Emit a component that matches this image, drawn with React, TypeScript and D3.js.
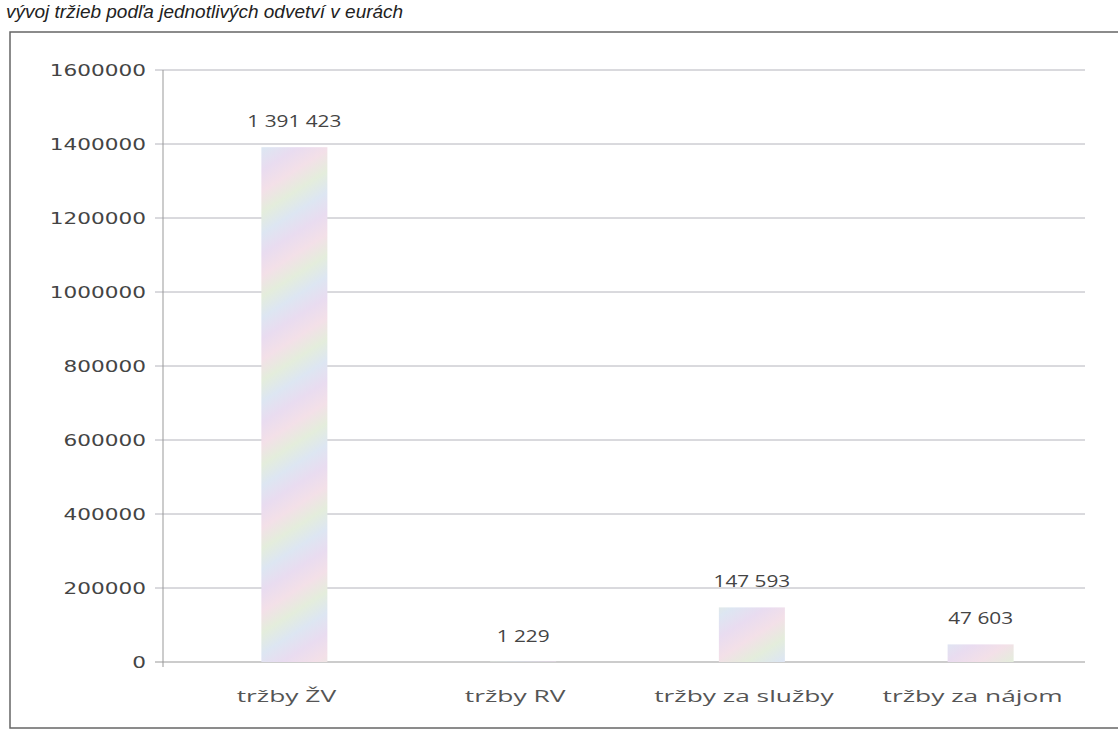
// @ts-nocheck
import * as d3 from 'd3';

const categories = ['tržby ŽV', 'tržby RV', 'tržby za služby', 'tržby za nájom'];
const values = [1391423, 1229, 147593, 47603];
const valueLabels = ['1 391 423', '1 229', '147 593', '47 603'];
const yTicks = [0, 200000, 400000, 600000, 800000, 1000000, 1200000, 1400000, 1600000];
const title = 'vývoj tržieb podľa jednotlivých odvetví v eurách';

const width = 1118;
const height = 739;

function App() {
  const x = d3.scaleBand().domain(categories).range([180, 1095]).paddingInner(0.71).paddingOuter(0.355);
  const y = d3.scaleLinear().domain([0, 1600000]).range([662, 70]);
  const barW = 66;

  return (
    <div style={{ position: 'absolute', left: 0, top: 0 }}>
      <svg width={width} height={height} style={{ display: 'block', background: '#fff' }}>
        <defs>
          <linearGradient id="moire" x1="0" y1="0" x2="38" y2="60" gradientUnits="userSpaceOnUse" spreadMethod="repeat">
            <stop offset="0" stopColor="#e9dcf0" />
            <stop offset="0.25" stopColor="#f3e0e8" />
            <stop offset="0.5" stopColor="#e4eddc" />
            <stop offset="0.75" stopColor="#dde6f2" />
            <stop offset="1" stopColor="#e9dcf0" />
          </linearGradient>
        </defs>

        <text x={6} y={18} fontFamily="Liberation Sans, Arial" fontStyle="italic" fontSize={19} fill="#222">{title}</text>

        {/* frame */}
        <rect x={10} y={32} width={1120} height={696} fill="none" stroke="#666" strokeWidth={1.5} />

        {/* gridlines + y labels */}
        {yTicks.map(t => (
          <g key={t}>
            <line x1={155} x2={1085} y1={y(t)} y2={y(t)} stroke={t === 0 ? '#999' : '#b4b4bc'} strokeWidth={1} />
            <text transform={`translate(146,${y(t)}) scale(1.35,1)`} dy="0.35em" textAnchor="end" fontFamily="DejaVu Sans, Verdana" fontSize={16} fill="#444">{t}</text>
          </g>
        ))}
        <line x1={163} x2={163} y1={y(1600000)} y2={y(0) + 5} stroke="#999" />

        {/* bars */}
        {categories.map((c, i) => {
          const cx = x(c) + x.bandwidth() / 2;
          return (
            <g key={c}>
              <rect x={cx - barW / 2} y={y(values[i])} width={barW} height={y(0) - y(values[i])} fill="url(#moire)" />
              <text transform={`translate(${cx},${y(values[i]) - 20}) scale(1.3,1)`} textAnchor="middle" fontFamily="Open Sans, Liberation Sans" fontSize={16} fill="#444">{valueLabels[i]}</text>
              <text transform={`translate(${cx - 8},${y(0) + 40}) scale(1.55,1)`} textAnchor="middle" fontFamily="Open Sans, Liberation Sans" fontSize={17} fill="#555">{c}</text>
            </g>
          );
        })}
      </svg>
    </div>
  );
}

export default App;
